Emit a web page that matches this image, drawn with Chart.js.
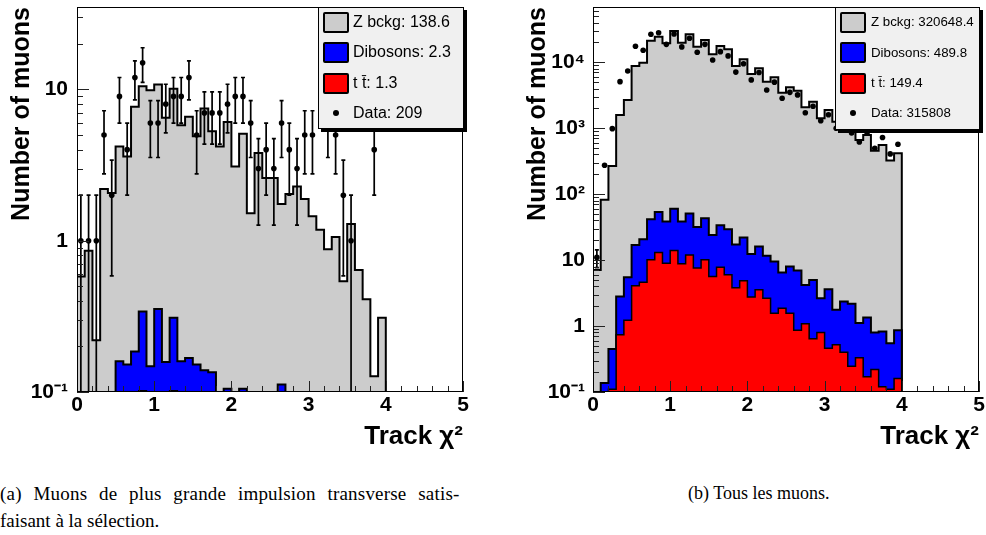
<!DOCTYPE html>
<html><head><meta charset="utf-8">
<script src="https://cdn.jsdelivr.net/npm/chart.js@4.4.1/dist/chart.umd.min.js"></script>
<style>
body{margin:0;background:#fff;}
#page{position:relative;width:986px;height:535px;overflow:hidden;background:#fff;}
.cv{position:absolute;top:0;}
.legend{position:absolute;background:#f0f0f0;border:1px solid #000;box-shadow:3px 3px 0 #000;box-sizing:border-box;font-family:"Liberation Sans",Arial,sans-serif;color:#000;}
.sw{position:absolute;width:26px;height:21px;border:2px solid #000;border-radius:2px;box-sizing:border-box;}
.dot{position:absolute;width:6px;height:6px;border-radius:50%;background:#000;}
.lt{position:absolute;white-space:nowrap;line-height:20px;}
.cap{position:absolute;font-family:"Liberation Serif","DejaVu Serif",serif;font-size:19px;color:#000;line-height:27px;white-space:nowrap;}
</style></head>
<body>
<div id="page">
  <canvas id="c1" class="cv" width="493" height="460" style="left:0"></canvas>
  <canvas id="c2" class="cv" width="493" height="460" style="left:493px"></canvas>
  <div id="legA" class="legend" style="left:318px;top:7px;width:146px;height:122px;font-size:16px"></div>
  <div id="legB" class="legend" style="left:835px;top:7px;width:145px;height:123px;font-size:13.3px"></div>
  <div class="cap" style="left:0;top:480px"><span style="word-spacing:6.8px;letter-spacing:0.2px">(a) Muons de plus grande impulsion transverse satis-</span><br>faisant à la sélection.</div>
  <div class="cap" style="left:688px;top:480px;font-size:18px">(b) Tous les muons.</div>
</div>
<script>
// ---------- data ----------
const binEdges = [0.0,0.1,0.2,0.3,0.4,0.5,0.6,0.7,0.8,0.9,1.0,1.1,1.2,1.3,1.4,1.5,1.6,1.7,1.8,1.9,
                  2.0,2.1,2.2,2.3,2.4,2.5,2.6,2.7,2.8,2.9,3.0,3.1,3.2,3.3,3.4,3.5,3.6,3.7,3.8,3.9,4.0];

// panel (a): leading muon
const zA   = [0.58,0.86,0.22,2.2,2.07,4.2,3.6,7.7,10.5,9.9,10.8,6.5,10.1,5.8,6.6,4.9,7.5,5.3,4.2,6.1,
              3.1,5.1,1.52,3.8,2.6,2.6,1.75,2.04,2.28,1.89,1.45,1.18,0.88,1.06,0.54,1.29,0.64,0.41,0.127,0.31];
const dibA = [0,0,0,0,0,0.16,0.152,0.185,0.34,0.148,0.354,0.158,0.31,0.16,0.168,0.152,0.139,0.135,0,0.105,
              0,0.105,0,0,0,0,0.112,0,0,0,0,0,0,0,0,0,0,0,0,0];
const ttA  = [0,0,0,0,0,0,0,0,0.102,0,0,0,0.102,0,0,0,0,0,0,0,
              0,0,0,0,0,0,0,0,0,0,0,0,0,0,0,0,0,0,0,0];
const dataA= [1,1,1,5,2,9,4,12,15,6,6,8,9,9,12,5,7,7,7,8,
              9,9,6,3,4,3,6,4,3,5,5,0,6,5,2,1,0,0,4,0];

// panel (b): all muons
const zB   = [7.1,82,268,1590,2690,8790,9860,21200,24400,19400,29800,19800,26500,17200,21800,13200,17700,15700,8800,11100,
              6660,8110,5080,5930,3460,4180,3710,2080,2530,1420,1890,1250,1450,1000,665,790,457,558,323,417];
const dibB = [0,0.137,0.45,2.8,5.5,17,20.7,41.6,53.8,38.5,60,38.5,51,31.7,43,24,33.7,29.4,17.2,22,
              12.4,16.1,11.6,9.5,6.5,8.0,6.95,4.2,5.0,2.65,3.6,1.77,2.36,2.18,1.11,1.35,0.8,0.83,0.55,0.86];
const ttB  = [0,0,0.11,0.74,1.22,4.1,4.6,10.1,13,9.0,14,8.8,12,7.6,10.1,5.65,7.8,6.0,3.8,4.85,
              2.75,3.55,2.65,1.57,1.87,1.57,0.86,1.08,0.64,0.8,0.46,0.52,0.40,0.245,0.33,0.17,0.22,0.12,0.11,0.16];
const dataB= [11,275,985,5080,7380,17500,15200,26600,28100,18700,26800,17100,23100,14200,18700,10800,14500,12500,7100,9500,
              5400,7000,3800,5000,2850,3500,3200,1720,2150,1300,1600,1000,1200,850,620,857,498,724,408,571];

const legendA = ['Z bckg: 138.6','Dibosons: 2.3','t t\u0304: 1.3','Data: 209'];
const legendB = ['Z bckg: 320648.4','Dibosons: 489.8','t t\u0304: 149.4','Data: 315808'];

const xTickValues = [0,1,2,3,4,5];
const xTickLabels = ['0','1','2','3','4','5'];
const xMinorTicks = [0.2,0.4,0.6,0.8,1.2,1.4,1.6,1.8,2.2,2.4,2.6,2.8,3.2,3.4,3.6,3.8,4.2,4.4,4.6,4.8];

const yTickValuesA = [0.1,1,10];
const yTickLabelsA = ['10\u207B\u00B9','1','10'];
const yMinorA = [0.2,0.3,0.4,0.5,0.6,0.7,0.8,0.9,2,3,4,5,6,7,8,9,20,30];
const yTickValuesB = [0.1,1,10,100,1000,10000];
const yTickLabelsB = ['10\u207B\u00B9','1','10','10\u00B2','10\u00B3','10\u2074'];
const yMinorB = [0.2,0.3,0.4,0.5,0.6,0.7,0.8,0.9,2,3,4,5,6,7,8,9,20,30,40,50,60,70,80,90,
                 200,300,400,500,600,700,800,900,2000,3000,4000,5000,6000,7000,8000,9000,20000,30000,40000,50000,60000];

const xTitle = 'Track \u03C7\u00B2';
const yTitle = 'Number of muons';

// ---------- helpers ----------
const SANS = '"Liberation Sans",Arial,sans-serif';
const colors = {z:'#cccccc', dib:'#0000ff', tt:'#ff0000'};

function histPoints(vals, floor) {
  const n = vals.length;
  const pts = [{x: binEdges[0], y: floor}];
  vals.forEach((v, i) => pts.push({x: binEdges[i], y: Math.max(v, floor)}));
  pts.push({x: binEdges[n], y: Math.max(vals[n-1], floor)});
  pts.push({x: binEdges[n], y: floor});
  return pts;
}
function countPoints(vals) {
  return vals.map((v, i) => ({x: (binEdges[i] + binEdges[i+1]) / 2, y: v > 0 ? v : null}));
}

const errorBars = {
  id: 'errorBars',
  afterDatasetsDraw(chart) {
    const {ctx, chartArea: a, scales: {y}} = chart;
    chart.data.datasets.forEach((ds, i) => {
      if (!ds.errorBars) return;
      const meta = chart.getDatasetMeta(i);
      ctx.save();
      ctx.beginPath(); ctx.rect(a.left, a.top, a.width, a.height); ctx.clip();
      ctx.strokeStyle = '#000'; ctx.lineWidth = 1.7;
      meta.data.forEach((pt, j) => {
        const d = ds.data[j];
        if (!d || d.y == null) return;
        const e = Math.sqrt(d.y);
        const top = y.getPixelForValue(d.y + e);
        const lo = d.y - e;
        const bot = lo > y.min ? y.getPixelForValue(lo) : a.bottom + 2;
        if (bot - top < 8) return;
        ctx.beginPath();
        ctx.moveTo(pt.x, top); ctx.lineTo(pt.x, bot);
        ctx.moveTo(pt.x - 2, top); ctx.lineTo(pt.x + 2, top);
        ctx.moveTo(pt.x - 2, bot); ctx.lineTo(pt.x + 2, bot);
        ctx.stroke();
      });
      ctx.restore();
    });
  }
};

const rootFrame = {
  id: 'rootFrame',
  afterDatasetsDraw(chart) {
    const {ctx, chartArea: a, scales: {x, y}} = chart;
    const o = chart.options.plugins.rootFrame;
    ctx.save();
    ctx.strokeStyle = '#222'; ctx.lineWidth = 1;
    ctx.beginPath();
    const tx = (v, len) => { const p = Math.round(x.getPixelForValue(v)) + 0.5; ctx.moveTo(p, a.bottom); ctx.lineTo(p, a.bottom - len); };
    const ty = (v, len) => { const p = Math.round(y.getPixelForValue(v)) + 0.5; ctx.moveTo(a.left, p); ctx.lineTo(a.left + len, p); };
    xTickValues.forEach(v => tx(v, 11));
    xMinorTicks.forEach(v => tx(v, 6));
    o.yMajor.forEach(v => ty(v, 12));
    o.yMinor.forEach(v => ty(v, 6));
    ctx.stroke();
    ctx.strokeStyle = '#000';
    ctx.strokeRect(Math.round(a.left) + 0.5, Math.round(a.top) + 0.5, Math.round(a.width) - 1, Math.round(a.height) - 1);
    ctx.restore();
  }
};

function makeChart(id, c) {
  const hist = (label, vals, color, bw, order) => ({
    label, data: histPoints(vals, c.yMin), stepped: 'before', fill: 'start',
    backgroundColor: color, borderColor: '#000', borderWidth: bw, pointRadius: 0, order
  });
  return new Chart(document.getElementById(id), {
    type: 'line',
    data: {
      datasets: [
        {label: c.legend[3], data: countPoints(c.data), showLine: false, pointRadius: 2.8,
         pointBackgroundColor: '#000', pointBorderWidth: 0, errorBars: true, order: 0},
        hist(c.legend[2], c.tt, colors.tt, 1.5, 1),
        hist(c.legend[1], c.dib, colors.dib, 2, 2),
        hist(c.legend[0], c.z, colors.z, 2, 3)
      ]
    },
    options: {
      responsive: false, animation: false, events: [],
      layout: {padding: {left: 0, top: 7, right: c.padRight, bottom: 0}},
      plugins: {legend: {display: false}, tooltip: {enabled: false},
                rootFrame: {yMajor: c.yTicks, yMinor: c.yMinor}},
      scales: {
        x: {
          type: 'linear', min: 0, max: 5,
          afterBuildTicks: s => { s.ticks = xTickValues.map(v => ({value: v})); },
          afterFit: s => { s.height = 68; s.paddingLeft = 0; s.paddingRight = 0; },
          ticks: {callback: (v, i) => xTickLabels[i], color: '#000', padding: 1, maxRotation: 0, autoSkip: false,
                  font: {family: SANS, size: 21, weight: 'bold'}},
          grid: {display: false, drawTicks: false}, border: {display: false},
          title: {display: true, text: xTitle, align: 'end', color: '#000',
                  font: {family: SANS, size: 26, weight: 'bold'}, padding: {top: 0, bottom: 8}}
        },
        y: {
          type: 'logarithmic', min: c.yMin, max: c.yMax,
          afterBuildTicks: s => { s.ticks = c.yTicks.map(v => ({value: v})); },
          afterFit: s => { s.width = c.yWidth; s.paddingTop = 0; s.paddingBottom = 0; },
          ticks: {callback: (v, i) => c.yLabels[i], color: '#000', padding: c.yTickPad, autoSkip: false,
                  font: {family: SANS, size: 21, weight: 'bold'}},
          grid: {display: false, drawTicks: false}, border: {display: false},
          title: {display: true, text: yTitle, align: 'end', color: '#000',
                  font: {family: SANS, size: 25, weight: 'bold'}, padding: {top: c.yTitlePad, bottom: 0}}
        }
      }
    },
    plugins: [errorBars, rootFrame]
  });
}

makeChart('c1', {z: zA, dib: dibA, tt: ttA, data: dataA, legend: legendA,
  yMin: 0.1, yMax: 35.1, yTicks: yTickValuesA, yLabels: yTickLabelsA, yMinor: yMinorA,
  yWidth: 77, padRight: 30, yTickPad: 9, yTitlePad: 7});
makeChart('c2', {z: zB, dib: dibB, tt: ttB, data: dataB, legend: legendB,
  yMin: 0.1, yMax: 68900, yTicks: yTickValuesB, yLabels: yTickLabelsB, yMinor: yMinorB,
  yWidth: 100, padRight: 7, yTickPad: 8, yTitlePad: 30});

// ---------- legends ----------
function buildLegend(elId, labels, swLeft, textLeft, rows) {
  const el = document.getElementById(elId);
  const fills = [colors.z, colors.dib, colors.tt];
  labels.forEach((t, i) => {
    const cy = rows[i];
    if (i < 3) {
      const s = document.createElement('div');
      s.className = 'sw'; s.style.left = swLeft + 'px'; s.style.top = (cy - 10.5) + 'px'; s.style.background = fills[i];
      el.appendChild(s);
    } else {
      const d = document.createElement('div');
      d.className = 'dot'; d.style.left = (swLeft + 13 - 3) + 'px'; d.style.top = (cy - 3) + 'px';
      el.appendChild(d);
    }
    const l = document.createElement('div');
    l.className = 'lt'; l.textContent = t; l.style.left = textLeft + 'px'; l.style.top = (cy - 10) + 'px';
    el.appendChild(l);
  });
}
buildLegend('legA', legendA, 4, 34, [14, 44, 75, 105]);
buildLegend('legB', legendB, 4, 35, [14, 44.5, 75, 105]);
</script>
</body></html>
